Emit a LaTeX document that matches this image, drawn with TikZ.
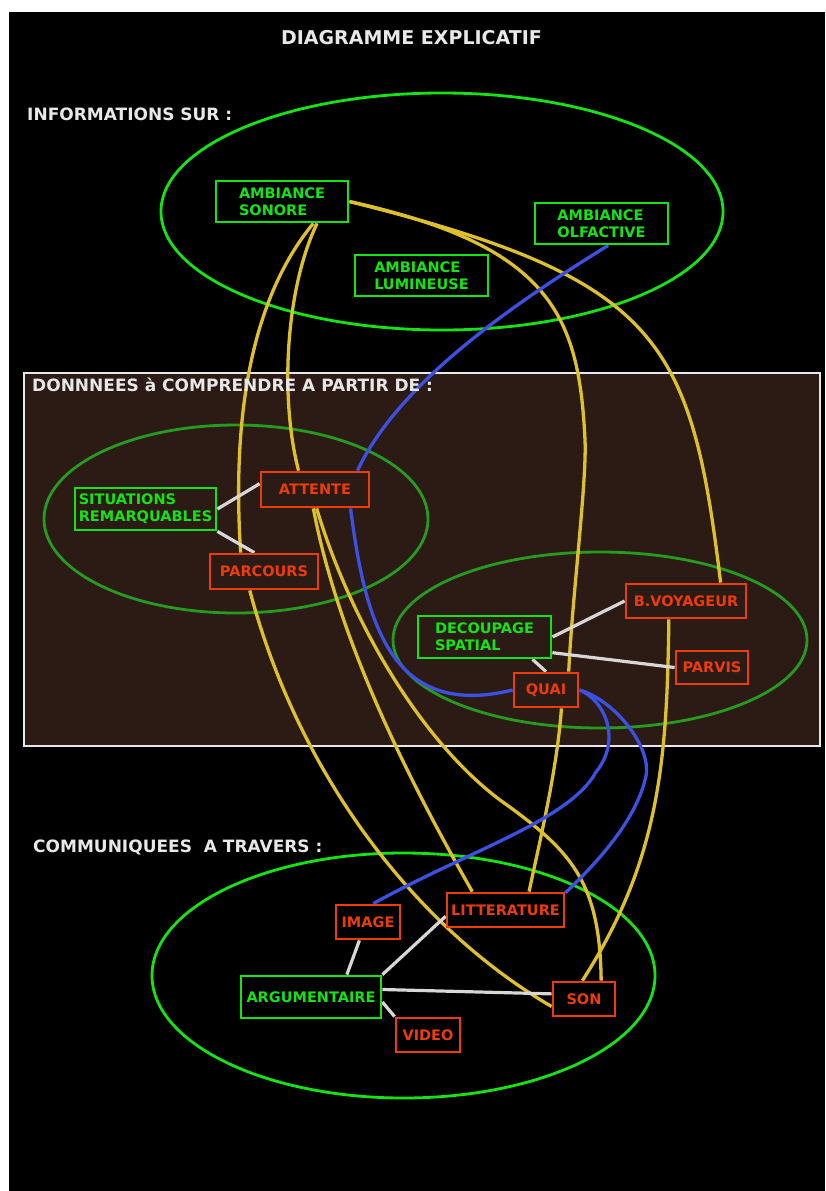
\documentclass[tikz,border=0pt]{standalone}
\usepackage{fontspec}
\setmainfont{DejaVu Sans}
\pgfdeclarelayer{bg}
\pgfdeclarelayer{edges}
\pgfsetlayers{bg,edges,main}
\definecolor{vert}{RGB}{20,228,20}
\definecolor{vertfonce}{RGB}{38,155,32}
\definecolor{rouge}{RGB}{235,60,10}
\definecolor{jaune}{RGB}{222,192,45}
\definecolor{bleu}{RGB}{60,80,225}
\definecolor{gris}{RGB}{215,215,215}
\definecolor{brun}{RGB}{44,27,21}
\definecolor{blanc}{RGB}{232,232,232}
\begin{document}
\begin{tikzpicture}[x=1pt, y=-1pt,
    boite/.style={draw, line width=2.8pt, inner sep=0pt, align=left, font=\fontsize{14.5}{17}\selectfont\bfseries},
    vboite/.style={boite, draw=vert, text=vert, fill=#1},
    rboite/.style={boite, draw=rouge, text=rouge, fill=#1},
    titre/.style={text=blanc, inner sep=0pt, font=\fontsize{17}{20}\selectfont\bfseries},
    lien/.style={gris, line width=3.2pt},
    fil/.style={jaune, line width=3.3pt},
    filb/.style={bleu, line width=3.3pt}]
  \useasboundingbox (0,0) rectangle (825,1191);

  \node[titre, font=\fontsize{19}{22}\selectfont\bfseries, anchor=base] (titre) at (411.5,44) {DIAGRAMME EXPLICATIF};
  \node[titre, anchor=base west] (infos) at (27,120) {INFORMATIONS SUR :};
  \node[titre, anchor=base west] (donnees) at (32,391) {DONNNEES à COMPRENDRE A PARTIR DE :};
  \node[titre, anchor=base west] (communiquees) at (33,852) {COMMUNIQUEES\ \ A TRAVERS :};

  \node[vboite=black, minimum width=132pt, minimum height=41pt] (sonore) at (282,201.5) {AMBIANCE\\SONORE};
  \node[vboite=black, minimum width=133pt, minimum height=41pt] (olfactive) at (601.5,223.5) {AMBIANCE\\OLFACTIVE};
  \node[vboite=black, minimum width=133pt, minimum height=41pt] (lumineuse) at (421.5,275.5) {AMBIANCE\\LUMINEUSE};
  \node[vboite=brun, minimum width=141pt, minimum height=42pt] (situations) at (145.5,509) {SITUATIONS\\REMARQUABLES};
  \node[rboite=brun, minimum width=108pt, minimum height=35pt] (attente) at (315,489.5) {ATTENTE};
  \node[rboite=brun, minimum width=108pt, minimum height=35pt] (parcours) at (264,571.5) {PARCOURS};
  \node[vboite=brun, minimum width=133pt, minimum height=42pt] (decoupage) at (484.5,637) {DECOUPAGE\\SPATIAL};
  \node[rboite=brun, minimum width=120pt, minimum height=34pt] (voyageur) at (686,601) {B.VOYAGEUR};
  \node[rboite=brun, minimum width=72pt, minimum height=33pt] (parvis) at (712,667.5) {PARVIS};
  \node[rboite=brun, minimum width=64pt, minimum height=34pt] (quai) at (546,690) {QUAI};
  \node[rboite=black, minimum width=64pt, minimum height=34pt] (image) at (368,922) {IMAGE};
  \node[rboite=black, minimum width=117pt, minimum height=34pt] (litterature) at (505.5,910) {LITTERATURE};
  \node[vboite=black, minimum width=140pt, minimum height=42pt] (argumentaire) at (311,997) {ARGUMENTAIRE};
  \node[rboite=black, minimum width=62pt, minimum height=34pt] (son) at (584,999) {SON};
  \node[rboite=black, minimum width=64pt, minimum height=34pt] (video) at (428,1035) {VIDEO};

  \begin{pgfonlayer}{bg}
    \fill[white] (0,0) rectangle (825,1191);
    \fill[black] (9,12) rectangle (825,1191);
    \draw[blanc, line width=2pt, fill=brun] (24,373) rectangle (820,746);
    \draw[vert, line width=2.8pt] (442,211.5) ellipse [x radius=281, y radius=118.5];
    \draw[vertfonce, line width=2.8pt] (236,519) ellipse [x radius=192, y radius=94];
    \draw[vertfonce, line width=2.8pt] (600,640) ellipse [x radius=207, y radius=88];
    \draw[vert, line width=2.8pt] (403.5,975.5) ellipse [x radius=251.5, y radius=122.5];
  \end{pgfonlayer}

  \begin{pgfonlayer}{edges}
    \draw[fil] (sonore.-35) .. controls (250,300) and (232,420) .. (parcours.141);
    \draw[fil] (parcours.-127) .. controls (300,780) and (420,930) .. (son.193);
    \draw[fil] (sonore.-32) .. controls (285,290) and (280,400) .. (attente.131);
    \draw[fil] (attente.-95) .. controls (340,650) and (420,800) .. (litterature.151);
    \draw[fil] (attente.-85) .. controls (350,620) and (420,740) .. (500,800) .. controls (570,850) and (600,880) .. (son.47);
    \draw[fil] (sonore.east) .. controls (550,246) and (579,314) .. (585,440) .. controls (587,480) and (572,600) .. (quai.39);
    \draw[fil] (quai.-50) .. controls (557,770) and (540,840) .. (litterature.38);
    \draw[fil] (sonore.east) .. controls (660,279) and (691,339) .. (voyageur.28);
    \draw[fil] (voyageur.-133) .. controls (667,760) and (660,860) .. (son.95);
    \draw[filb] (olfactive.-73) .. controls (520,300) and (400,380) .. (attente.24);
    \draw[filb] (attente.-28) .. controls (365,620) and (390,720) .. (quai.west);
    \draw[filb] (quai.east) .. controls (605,700) and (622,740) .. (596,772) .. controls (570,820) and (470,850) .. (image.74);
    \draw[filb] (quai.east) .. controls (615,700) and (655,750) .. (645,780) .. controls (635,820) and (600,860) .. (litterature.16);
    \draw[lien] (situations.east) -- (attente.174);
    \draw[lien] (situations.south east) -- (parcours.117);
    \draw[lien] (decoupage.east) -- (voyageur.west);
    \draw[lien] (decoupage.-13) -- (parvis.west);
    \draw[lien] (decoupage.-25) -- (quai.north);
    \draw[lien] (argumentaire.32) -- (image.-115);
    \draw[lien] (argumentaire.north east) -- (litterature.186);
    \draw[lien] (argumentaire.6) -- (son.171);
    \draw[lien] (argumentaire.-4) -- (video.north west);
  \end{pgfonlayer}
\end{tikzpicture}
\end{document}
